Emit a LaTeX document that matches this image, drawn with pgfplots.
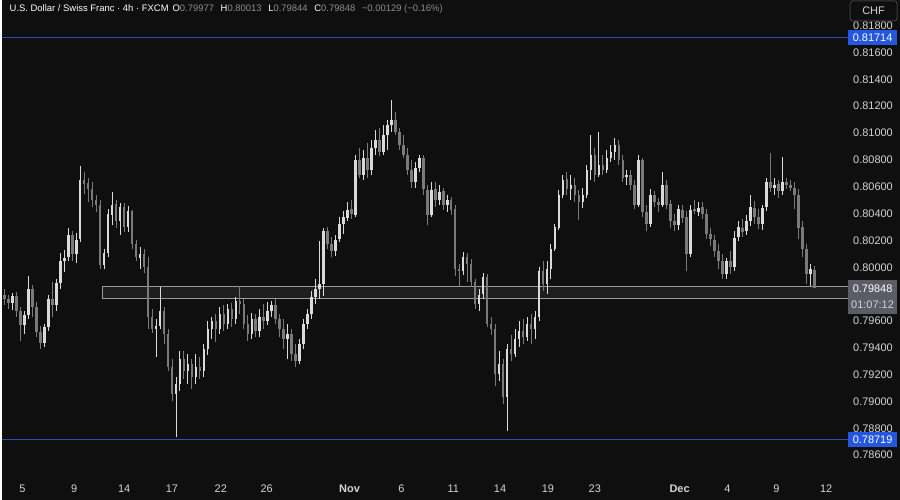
\documentclass[border=0pt]{standalone}
\usepackage{pgfplots}
\pgfplotsset{compat=1.18}
\usepackage{pgfplotstable}
\usepackage{fontspec}
\setmainfont{Liberation Sans}

\definecolor{bg}{HTML}{0F0F0F}
\definecolor{upc}{HTML}{DADADA}
\definecolor{dnc}{HTML}{7A7A7A}
\definecolor{lvl}{HTML}{2A4DB8}
\definecolor{lvlbox}{HTML}{2457E0}
\definecolor{zonefill}{HTML}{1E1E1E}
\definecolor{zoneline}{HTML}{9A9A9A}
\definecolor{axtxt}{HTML}{D4D4D4}
\definecolor{valc}{HTML}{8C8C8C}
\definecolor{pricebox}{HTML}{5A5D66}
\definecolor{chfbox}{HTML}{3C3C3C}
\newcommand{\tickfont}{\fontsize{8.25}{10}\selectfont}

% USD/CHF 4h candles: bar index, open, high, low, close
\pgfplotstableread{
i o h l c
0 0.79792 0.79837 0.79718 0.79762
1 0.79762 0.79792 0.79688 0.79733
2 0.79733 0.79807 0.79681 0.79785
3 0.79785 0.79814 0.79629 0.79673
4 0.79673 0.79703 0.79450 0.79569
5 0.79569 0.79673 0.79502 0.79643
6 0.79643 0.79933 0.79614 0.79837
7 0.79837 0.79866 0.79629 0.79703
8 0.79703 0.79740 0.79480 0.79517
9 0.79517 0.79562 0.79391 0.79435
10 0.79435 0.79577 0.79406 0.79554
11 0.79554 0.79792 0.79525 0.79762
12 0.79762 0.79889 0.79629 0.79718
13 0.79718 0.79911 0.79673 0.79881
14 0.79881 0.80104 0.79837 0.80045
15 0.80045 0.80134 0.79970 0.80074
16 0.80074 0.80297 0.80045 0.80238
17 0.80238 0.80267 0.80045 0.80097
18 0.80097 0.80253 0.80030 0.80208
19 0.80208 0.80758 0.80186 0.80654
20 0.80654 0.80713 0.80550 0.80624
21 0.80624 0.80669 0.80490 0.80580
22 0.80580 0.80632 0.80453 0.80505
23 0.80505 0.80542 0.80416 0.80468
24 0.80468 0.80505 0.79985 0.80015
25 0.80015 0.80134 0.79985 0.80104
26 0.80104 0.80431 0.80074 0.80394
27 0.80394 0.80565 0.80320 0.80468
28 0.80468 0.80505 0.80297 0.80342
29 0.80342 0.80483 0.80245 0.80446
30 0.80446 0.80476 0.80260 0.80297
31 0.80297 0.80461 0.80267 0.80416
32 0.80416 0.80431 0.80134 0.80171
33 0.80171 0.80208 0.80045 0.80074
34 0.80074 0.80149 0.79985 0.80097
35 0.80097 0.80134 0.79955 0.80000
36 0.80000 0.80074 0.79539 0.79629
37 0.79629 0.79688 0.79510 0.79539
38 0.79539 0.79614 0.79331 0.79562
39 0.79562 0.79851 0.79539 0.79673
40 0.79673 0.79703 0.79428 0.79502
41 0.79502 0.79539 0.79227 0.79257
42 0.79257 0.79316 0.79004 0.79056
43 0.79056 0.79183 0.78737 0.79131
44 0.79131 0.79376 0.79079 0.79316
45 0.79316 0.79376 0.79168 0.79227
46 0.79227 0.79354 0.79131 0.79279
47 0.79279 0.79316 0.79094 0.79183
48 0.79183 0.79354 0.79131 0.79257
49 0.79257 0.79331 0.79168 0.79227
50 0.79227 0.79428 0.79183 0.79391
51 0.79391 0.79599 0.79346 0.79539
52 0.79539 0.79629 0.79465 0.79599
53 0.79599 0.79651 0.79443 0.79539
54 0.79539 0.79703 0.79502 0.79651
55 0.79651 0.79718 0.79525 0.79577
56 0.79577 0.79725 0.79539 0.79688
57 0.79688 0.79733 0.79554 0.79614
58 0.79614 0.79777 0.79577 0.79747
59 0.79747 0.79859 0.79651 0.79725
60 0.79725 0.79762 0.79539 0.79577
61 0.79577 0.79643 0.79450 0.79502
62 0.79502 0.79658 0.79465 0.79614
63 0.79614 0.79651 0.79480 0.79525
64 0.79525 0.79688 0.79480 0.79629
65 0.79629 0.79725 0.79539 0.79599
66 0.79599 0.79740 0.79569 0.79673
67 0.79673 0.79747 0.79629 0.79718
68 0.79718 0.79762 0.79577 0.79614
69 0.79614 0.79651 0.79480 0.79539
70 0.79539 0.79614 0.79391 0.79465
71 0.79465 0.79577 0.79316 0.79502
72 0.79502 0.79539 0.79302 0.79354
73 0.79354 0.79428 0.79257 0.79302
74 0.79302 0.79465 0.79279 0.79428
75 0.79428 0.79614 0.79391 0.79577
76 0.79577 0.79688 0.79539 0.79651
77 0.79651 0.79822 0.79614 0.79777
78 0.79777 0.79911 0.79725 0.79837
79 0.79837 0.80193 0.79762 0.79874
80 0.79874 0.80297 0.79785 0.80267
81 0.80267 0.80297 0.80134 0.80171
82 0.80171 0.80223 0.80074 0.80119
83 0.80119 0.80238 0.80082 0.80208
84 0.80208 0.80372 0.80186 0.80320
85 0.80320 0.80416 0.80245 0.80372
86 0.80372 0.80483 0.80342 0.80431
87 0.80431 0.80505 0.80357 0.80394
88 0.80394 0.80840 0.80372 0.80802
89 0.80802 0.80892 0.80669 0.80691
90 0.80691 0.80877 0.80654 0.80817
91 0.80817 0.80929 0.80669 0.80728
92 0.80728 0.80951 0.80691 0.80892
93 0.80892 0.81025 0.80840 0.80951
94 0.80951 0.81040 0.80832 0.80862
95 0.80862 0.81062 0.80840 0.80988
96 0.80988 0.81100 0.80877 0.81062
97 0.81062 0.81248 0.81010 0.81100
98 0.81100 0.81159 0.80988 0.81010
99 0.81010 0.81040 0.80877 0.80914
100 0.80914 0.80988 0.80817 0.80840
101 0.80840 0.80892 0.80691 0.80728
102 0.80728 0.80802 0.80594 0.80639
103 0.80639 0.80788 0.80594 0.80743
104 0.80743 0.80840 0.80713 0.80817
105 0.80817 0.80840 0.80542 0.80580
106 0.80580 0.80617 0.80320 0.80394
107 0.80394 0.80639 0.80372 0.80580
108 0.80580 0.80639 0.80446 0.80505
109 0.80505 0.80617 0.80468 0.80565
110 0.80565 0.80594 0.80431 0.80468
111 0.80468 0.80542 0.80416 0.80505
112 0.80505 0.80528 0.80394 0.80431
113 0.80431 0.80468 0.79933 0.79985
114 0.79985 0.80022 0.79859 0.79970
115 0.79970 0.80111 0.79941 0.80074
116 0.80074 0.80104 0.79889 0.80022
117 0.80022 0.80059 0.79851 0.79889
118 0.79889 0.79911 0.79688 0.79725
119 0.79725 0.79837 0.79673 0.79799
120 0.79799 0.79955 0.79762 0.79926
121 0.79926 0.79948 0.79554 0.79577
122 0.79577 0.79629 0.79495 0.79539
123 0.79539 0.79577 0.79116 0.79205
124 0.79205 0.79376 0.79153 0.79279
125 0.79279 0.79316 0.78982 0.79034
126 0.79034 0.79428 0.78782 0.79391
127 0.79391 0.79495 0.79302 0.79354
128 0.79354 0.79539 0.79331 0.79465
129 0.79465 0.79599 0.79406 0.79525
130 0.79525 0.79614 0.79428 0.79480
131 0.79480 0.79629 0.79450 0.79577
132 0.79577 0.79651 0.79428 0.79539
133 0.79539 0.79673 0.79465 0.79629
134 0.79629 0.80000 0.79599 0.79970
135 0.79970 0.80045 0.79822 0.79874
136 0.79874 0.80045 0.79799 0.79985
137 0.79985 0.80171 0.79911 0.80134
138 0.80134 0.80320 0.80119 0.80297
139 0.80297 0.80580 0.80282 0.80542
140 0.80542 0.80691 0.80520 0.80654
141 0.80654 0.80713 0.80542 0.80580
142 0.80580 0.80691 0.80505 0.80617
143 0.80617 0.80669 0.80490 0.80542
144 0.80542 0.80580 0.80357 0.80490
145 0.80490 0.80594 0.80446 0.80542
146 0.80542 0.80765 0.80520 0.80728
147 0.80728 0.80988 0.80654 0.80840
148 0.80840 0.80892 0.80639 0.80691
149 0.80691 0.81010 0.80669 0.80765
150 0.80765 0.80840 0.80691 0.80728
151 0.80728 0.80877 0.80706 0.80817
152 0.80817 0.80914 0.80788 0.80862
153 0.80862 0.80966 0.80802 0.80914
154 0.80914 0.80951 0.80765 0.80802
155 0.80802 0.80840 0.80639 0.80669
156 0.80669 0.80728 0.80617 0.80691
157 0.80691 0.80728 0.80580 0.80617
158 0.80617 0.80654 0.80431 0.80468
159 0.80468 0.80840 0.80446 0.80802
160 0.80802 0.80817 0.80372 0.80416
161 0.80416 0.80468 0.80267 0.80320
162 0.80320 0.80580 0.80297 0.80542
163 0.80542 0.80565 0.80446 0.80490
164 0.80490 0.80520 0.80416 0.80468
165 0.80468 0.80713 0.80446 0.80617
166 0.80617 0.80654 0.80431 0.80468
167 0.80468 0.80505 0.80297 0.80342
168 0.80342 0.80394 0.80267 0.80312
169 0.80312 0.80468 0.80282 0.80431
170 0.80431 0.80468 0.80327 0.80372
171 0.80372 0.80416 0.79970 0.80097
172 0.80097 0.80468 0.80074 0.80431
173 0.80431 0.80505 0.80394 0.80416
174 0.80416 0.80490 0.80386 0.80446
175 0.80446 0.80490 0.80357 0.80394
176 0.80394 0.80431 0.80208 0.80245
177 0.80245 0.80297 0.80163 0.80208
178 0.80208 0.80238 0.80074 0.80119
179 0.80119 0.80171 0.79985 0.80045
180 0.80045 0.80097 0.79911 0.79948
181 0.79948 0.80074 0.79911 0.80045
182 0.80045 0.80119 0.79948 0.80000
183 0.80000 0.80267 0.79970 0.80223
184 0.80223 0.80342 0.80193 0.80297
185 0.80297 0.80357 0.80223 0.80267
186 0.80267 0.80394 0.80238 0.80342
187 0.80342 0.80542 0.80312 0.80446
188 0.80446 0.80490 0.80320 0.80372
189 0.80372 0.80431 0.80282 0.80320
190 0.80320 0.80468 0.80282 0.80446
191 0.80446 0.80669 0.80416 0.80639
192 0.80639 0.80854 0.80565 0.80594
193 0.80594 0.80669 0.80542 0.80617
194 0.80617 0.80654 0.80520 0.80565
195 0.80565 0.80825 0.80535 0.80632
196 0.80632 0.80669 0.80580 0.80617
197 0.80617 0.80654 0.80565 0.80594
198 0.80594 0.80632 0.80431 0.80542
199 0.80542 0.80580 0.80208 0.80297
200 0.80297 0.80342 0.80074 0.80134
201 0.80134 0.80171 0.79874 0.79948
202 0.79948 0.80022 0.79859 0.79985
203 0.79977 0.80013 0.79844 0.79848
}\candles

\begin{document}
\begin{tikzpicture}
\fill[bg] (0,0) rectangle (675pt,375.75pt);
% horizontal price levels (0.81714 and 0.78719), drawn in pixel units as thin fills
\begin{scope}[x=0.75pt, y=-0.75pt, yshift=375.75pt]
  \fill[lvl] (0,36.8) rectangle (848,38.2);
  \fill[lvl] (0,439.8) rectangle (848,441.2);
\end{scope}
\begin{axis}[
    at={(0pt,23.25pt)}, anchor=south west,
    scale only axis, width=632.25pt, height=352.5pt,
    xmin=-0.5, xmax=210.25,
    ymin=0.78499, ymax=0.81991,
    clip=false,
    axis x line*=bottom, axis y line*=right,
    axis line style={draw=none},
    major tick length=0pt,
    scaled y ticks=false,
    ytick={0.786,0.788,0.790,0.792,0.794,0.796,0.800,0.802,0.804,0.806,0.808,0.810,0.812,0.814,0.816,0.818},
    yticklabel style={anchor=west, xshift=4pt, font=\tickfont, text=axtxt,
        /pgf/number format/fixed, /pgf/number format/fixed zerofill,
        /pgf/number format/precision=5, /pgf/number format/assume math mode=true},
    xtick={4.5,17.5,30,42,54.25,65.75,86.5,99.5,112.5,124.25,136.25,148,169.25,181.25,193.5,206},
    xticklabels={5,9,14,17,22,26,\textbf{Nov},6,11,14,19,23,\textbf{Dec},4,9,12},
    xticklabel style={font=\tickfont, text=axtxt, yshift=-8.5pt},
    candle/.style={draw=none, mark=none, forget plot},
]
% support zone
\addplot[fill=zonefill, draw=zoneline, line width=0.6pt, mark=none] coordinates
    {(24.5,0.79861) (211.5,0.79861) (211.5,0.79770) (24.5,0.79770) (24.5,0.79861)};
% wicks
\addplot[candle, color=dnc, restrict expr to domain={\thisrow{c}-\thisrow{o}}{-1:0},
    error bars/.cd, y dir=both, y explicit, error mark=none,
    error bar style={draw=dnc, line width=0.7pt}]
    table[x=i, y expr=(\thisrow{h}+\thisrow{l})/2, y error expr=(\thisrow{h}-\thisrow{l})/2] {\candles};
\addplot[candle, color=upc, restrict expr to domain={\thisrow{c}-\thisrow{o}}{0:1},
    error bars/.cd, y dir=both, y explicit, error mark=none,
    error bar style={draw=upc, line width=0.7pt}]
    table[x=i, y expr=(\thisrow{h}+\thisrow{l})/2, y error expr=(\thisrow{h}-\thisrow{l})/2] {\candles};
% bodies
\addplot[candle, color=dnc, restrict expr to domain={\thisrow{c}-\thisrow{o}}{-1:0},
    error bars/.cd, y dir=both, y explicit, error mark=none,
    error bar style={draw=dnc, line width=1.9pt}]
    table[x=i, y expr=(\thisrow{o}+\thisrow{c})/2,
          y error expr={max(abs(\thisrow{c}-\thisrow{o})/2,0.00001)}] {\candles};
\addplot[candle, color=upc, restrict expr to domain={\thisrow{c}-\thisrow{o}}{0:1},
    error bars/.cd, y dir=both, y explicit, error mark=none,
    error bar style={draw=upc, line width=1.9pt}]
    table[x=i, y expr=(\thisrow{o}+\thisrow{c})/2,
          y error expr={max(abs(\thisrow{c}-\thisrow{o})/2,0.00001)}] {\candles};
\end{axis}

\begin{scope}[x=0.75pt, y=-0.75pt, yshift=375.75pt]
  \fill[lvlbox] (848,30) rectangle (897,45);
  \node[text=white, font=\tickfont] at (872.5,37.5) {0.81714};
  \fill[lvlbox] (848,433) rectangle (897,448);
  \node[text=white, font=\tickfont] at (872.5,440.5) {0.78719};
  \fill[pricebox] (848,281) rectangle (897,315);
  \node[text=white, font=\tickfont, inner sep=0pt] at (872.5,290) {0.79848};
  \node[text=axtxt, font=\tickfont, inner sep=0pt] at (872.5,306) {01:07:12};
  \draw[chfbox, rounded corners=2pt, line width=0.75pt] (850,1) rectangle (897,21);
  \node[text=axtxt, font=\tickfont] at (873.5,11) {CHF};
  \node[anchor=base west, inner sep=0pt, text=white, font=\fontsize{7.1}{9}\selectfont] at (7,12)
    {U.S. Dollar / Swiss Franc · 4h · FXCM\hspace{3pt}O\textcolor{valc}{0.79977}\hspace{5pt}H\textcolor{valc}{0.80013}\hspace{5pt}L\textcolor{valc}{0.79844}\hspace{5pt}C\textcolor{valc}{0.79848}\hspace{5pt}\textcolor{valc}{−0.00129 (−0.16\%)}};
\end{scope}
\end{tikzpicture}
\end{document}
